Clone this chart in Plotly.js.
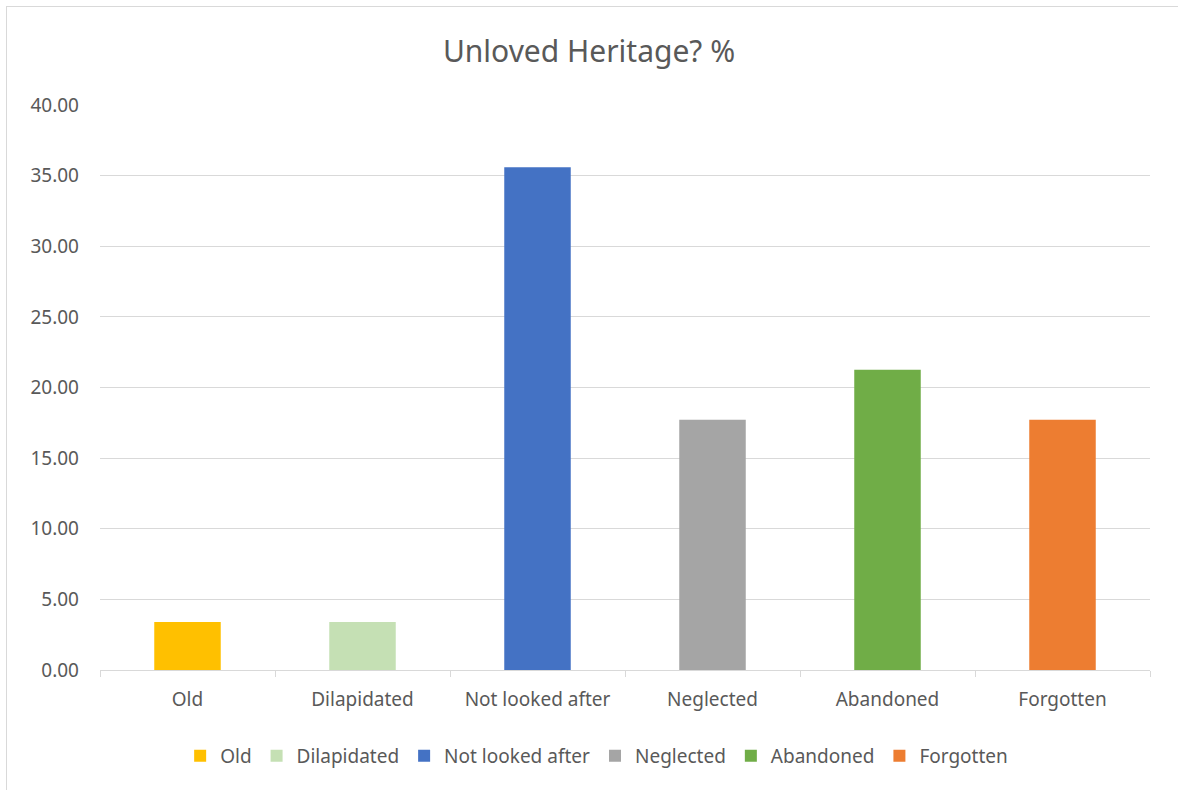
<!DOCTYPE html>
<html>
<head>
<meta charset="utf-8">
<script src="https://cdn.plot.ly/plotly-3.0.1.min.js"></script>
<style>
html,body{margin:0;padding:0;background:#fff;}
#frame{position:absolute;left:6px;top:6px;width:1200px;height:800px;border-left:1px solid #d9d9d9;border-top:1px solid #d9d9d9;pointer-events:none;}
#chart{position:absolute;left:0;top:0;width:1178px;height:790px;}
</style>
</head>
<body>
<div id="chart"></div>
<div id="frame"></div>
<script>
const categories = ["Old", "Dilapidated", "Not looked after", "Neglected", "Abandoned", "Forgotten"];
const values = [3.39, 3.39, 35.59, 17.71, 21.26, 17.71];
const colors = ["#ffc000", "#c5e0b4", "#4472c4", "#a5a5a5", "#70ad47", "#ed7d31"];
const yTicks = [0, 5, 10, 15, 20, 25, 30, 35, 40];

const traces = categories.map((c, i) => ({
  type: "bar",
  name: c,
  x: [c],
  y: [values[i]],
  marker: {color: colors[i]},
  hoverinfo: "x+y"
}));

const layout = {
  width: 1178,
  height: 790,
  paper_bgcolor: "rgba(0,0,0,0)",
  plot_bgcolor: "#ffffff",
  font: {family: "Noto Sans, sans-serif", size: 19, color: "#595959"},
  title: {text: "Unloved Heritage? %", font: {size: 30, color: "#595959"}, x: 0.5, xanchor: "center", y: 0.935, yanchor: "middle"},
  margin: {l: 100, r: 28, t: 105, b: 120},
  barmode: "overlay",
  bargap: 0.62,
  xaxis: {
    type: "category",
    categoryarray: categories,
    showgrid: false,
    showline: true,
    linecolor: "#d9d9d9",
    linewidth: 1,
    ticks: "outside",
    tickson: "boundaries",
    ticklen: 6,
    tickcolor: "#d9d9d9",
    tickfont: {size: 19, color: "#595959"},
    ticklabelstandoff: 12
  },
  yaxis: {
    range: [0, 40],
    tickvals: yTicks,
    ticktext: yTicks.map(v => v.toFixed(2)),
    showgrid: true,
    gridcolor: "#d9d9d9",
    gridwidth: 1,
    zeroline: false,
    showline: false,
    tickfont: {size: 19, color: "#595959"},
    ticklabelstandoff: 20
  },
  showlegend: true,
  legend: {
    orientation: "h",
    x: 0.473,
    xanchor: "center",
    y: -0.152,
    yanchor: "middle",
    font: {size: 19, color: "#595959"},
    itemwidth: 30,
    traceorder: "normal"
  }
};

Plotly.newPlot("chart", traces, layout, {displayModeBar: false, staticPlot: true});
</script>
</body>
</html>
